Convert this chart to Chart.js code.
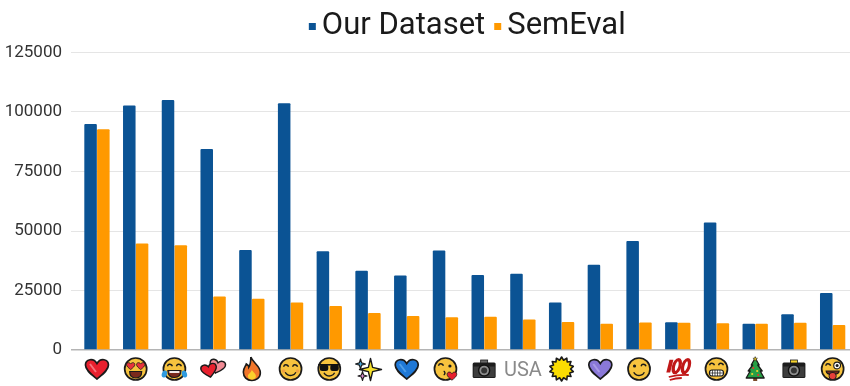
<!DOCTYPE html>
<html>
<head>
<meta charset="utf-8">
<style>
html, body { margin: 0; padding: 0; background: #fff; overflow: hidden; width: 850px; height: 386px; }
canvas { display: block; }
</style>
<script src="https://cdn.jsdelivr.net/npm/chart.js@4/dist/chart.umd.min.js"></script>
</head>
<body>
<canvas id="c" width="852" height="386"></canvas>
<script>
const categories = ['❤️', '😍', '😂', '💕', '🔥', '😊', '😎', '✨', '💙', '😘', '📷', 'USA', '🌞', '💜', '😉', '💯', '😁', '🎄', '📸', '😜'];
const ourDataset = [95000, 102700, 105000, 84500, 42000, 103700, 41500, 33300, 31300, 41800, 31500, 32000, 20000, 35800, 45800, 11700, 53600, 11000, 15000, 24000];
const semEval = [92700, 44800, 44000, 22500, 21500, 20000, 18500, 15500, 14300, 13800, 14000, 12800, 11800, 11000, 11600, 11500, 11200, 11000, 11400, 10500];
const yTicks = [0, 25000, 50000, 75000, 100000, 125000];
const seriesColors = ['#0b5394', '#ff9900'];

const INK = '#1a1a1a';

// small vector emoji, since no emoji font is installed
function heartPath(c, s) {
    c.beginPath();
    c.moveTo(0, 10 * s);
    c.bezierCurveTo(-6 * s, 5 * s, -11.5 * s, 1 * s, -11.5 * s, -4 * s);
    c.bezierCurveTo(-11.5 * s, -10 * s, -3.5 * s, -11.5 * s, 0, -5.5 * s);
    c.bezierCurveTo(3.5 * s, -11.5 * s, 11.5 * s, -10 * s, 11.5 * s, -4 * s);
    c.bezierCurveTo(11.5 * s, 1 * s, 6 * s, 5 * s, 0, 10 * s);
    c.closePath();
}
function heart(c, fill, shine) {
    heartPath(c, 1);
    c.fillStyle = fill; c.fill();
    c.strokeStyle = INK; c.lineWidth = 1.7; c.stroke();
    if (shine) {
        c.beginPath(); c.moveTo(-7, -5); c.lineTo(-1, 3);
        c.strokeStyle = shine; c.lineWidth = 2; c.stroke();
    }
}
function face(c) {
    c.beginPath(); c.arc(0, 0, 11, 0, Math.PI * 2);
    c.fillStyle = '#f7c33e'; c.fill();
    c.strokeStyle = INK; c.lineWidth = 1.7; c.stroke();
}
function arcLine(c, x, y, r, a, b, lw) {
    c.beginPath(); c.arc(x, y, r, a, b);
    c.strokeStyle = INK; c.lineWidth = lw || 1.4; c.stroke();
}
function happyEye(c, x, y) { arcLine(c, x, y + 1, 2.6, Math.PI * 1.1, Math.PI * 1.9); }
function smile(c, y, r) { arcLine(c, 0, y, r, Math.PI * 0.15, Math.PI * 0.85); }
function openMouth(c, y, w, h, fill) {
    c.beginPath(); c.moveTo(-w, y); c.lineTo(w, y);
    c.quadraticCurveTo(w, y + h, 0, y + h);
    c.quadraticCurveTo(-w, y + h, -w, y); c.closePath();
    c.fillStyle = fill; c.fill();
    c.strokeStyle = INK; c.lineWidth = 1.2; c.stroke();
}
function miniHeart(c, x, y, s, fill) {
    c.save(); c.translate(x, y); heartPath(c, s);
    c.fillStyle = fill; c.fill();
    c.strokeStyle = INK; c.lineWidth = 0.8; c.stroke(); c.restore();
}
function star(c, x, y, R, r, n, fill, lw) {
    c.beginPath();
    for (let i = 0; i < n * 2; i++) {
        const a = -Math.PI / 2 + i * Math.PI / n, q = i % 2 ? r : R;
        c.lineTo(x + Math.cos(a) * q, y + Math.sin(a) * q);
    }
    c.closePath();
    c.fillStyle = fill; c.fill();
    c.strokeStyle = INK; c.lineWidth = lw; c.lineJoin = 'round'; c.stroke();
}
function camera(c, flash) {
    c.fillStyle = '#1d1d1d';
    c.beginPath(); c.roundRect(-11.5, -6.5, 23, 15.5, 1.5); c.fill();
    c.fillStyle = '#3d3d3d'; c.fillRect(-10.5, -2.5, 21, 10.5);
    c.fillStyle = flash ? '#f6d32d' : '#6a6a6a';
    c.fillRect(-3.5, -9, 7, 3);
    c.strokeStyle = INK; c.lineWidth = 0.8; c.strokeRect(-3.5, -9, 7, 3);
    c.beginPath(); c.arc(0, 1.5, 5.5, 0, Math.PI * 2);
    c.fillStyle = '#8d8d8d'; c.fill();
    c.strokeStyle = '#111'; c.lineWidth = 1.4; c.stroke();
    c.beginPath(); c.arc(0, 1.5, 3, 0, Math.PI * 2); c.fillStyle = '#333'; c.fill();
}

const ICONS = [
    (c) => heart(c, '#e8202e', '#f4737c'),
    (c) => {
        face(c);
        miniHeart(c, -5, -3, 0.36, '#e8333b'); miniHeart(c, 5, -3, 0.36, '#e8333b');
        openMouth(c, 2.5, 6, 6.5, '#7a2a1c');
    },
    (c) => {
        face(c);
        happyEye(c, -4.5, -3); happyEye(c, 4.5, -3);
        openMouth(c, 1.5, 6.5, 7, '#7a2a1c');
        c.fillStyle = '#fff'; c.fillRect(-5, 2.1, 10, 1.8);
        c.fillStyle = '#2f9be0';
        c.beginPath(); c.ellipse(-10, 5, 2.6, 3.6, 0.3, 0, Math.PI * 2); c.fill();
        c.beginPath(); c.ellipse(10, 5, 2.6, 3.6, -0.3, 0, Math.PI * 2); c.fill();
    },
    (c) => {
        c.save(); c.translate(4, -2.5); c.rotate(0.25); heartPath(c, 0.68);
        c.fillStyle = '#f08a94'; c.fill(); c.strokeStyle = INK; c.lineWidth = 1.4; c.stroke(); c.restore();
        c.save(); c.translate(-4, 1.5); c.rotate(-0.2); heartPath(c, 0.68);
        c.fillStyle = '#e8202e'; c.fill(); c.strokeStyle = INK; c.lineWidth = 1.4; c.stroke(); c.restore();
    },
    (c) => {
        c.beginPath(); c.moveTo(-1, -12);
        c.bezierCurveTo(1, -6, 9, -3, 8.5, 4);
        c.bezierCurveTo(8.5, 9, 4, 11.5, 0, 11.5);
        c.bezierCurveTo(-5, 11.5, -8.5, 8, -8.5, 3);
        c.bezierCurveTo(-8.5, -1, -6, -3, -5.5, -5);
        c.bezierCurveTo(-4, -4, -3, -3, -3, -2);
        c.bezierCurveTo(-1, -5, -1, -9, -1, -12);
        c.fillStyle = '#f1762a'; c.fill();
        c.strokeStyle = INK; c.lineWidth = 1.6; c.stroke();
        c.beginPath(); c.moveTo(0, 1);
        c.bezierCurveTo(2, 4, 4.5, 5, 4, 8);
        c.bezierCurveTo(3.5, 10, 1, 10.5, 0, 10.5);
        c.bezierCurveTo(-2, 10.5, -4, 9.5, -4, 7);
        c.bezierCurveTo(-4, 5, -1, 4, 0, 1);
        c.fillStyle = '#fbd02c'; c.fill();
    },
    (c) => {
        face(c);
        happyEye(c, -4.5, -2.5); happyEye(c, 4.5, -2.5);
        smile(c, 0.5, 6);
        c.fillStyle = 'rgba(236,120,70,.45)';
        c.beginPath(); c.arc(-7, 2, 1.8, 0, Math.PI * 2); c.arc(7, 2, 1.8, 0, Math.PI * 2); c.fill();
    },
    (c) => {
        face(c);
        c.fillStyle = '#111';
        c.fillRect(-11, -5, 22, 1.6);
        c.beginPath(); c.roundRect(-9.5, -4.5, 8.5, 6.5, 2.5); c.fill();
        c.beginPath(); c.roundRect(1, -4.5, 8.5, 6.5, 2.5); c.fill();
        smile(c, 1, 6);
    },
    (c) => {
        star(c, 2.5, 0.5, 11, 3, 4, '#f6e02a', 1.4);
        star(c, -7.5, -5, 5, 1.6, 4, '#47a6dc', 1.1);
        star(c, -5.5, 7, 4.5, 1.5, 4, '#d98ad0', 1.1);
    },
    (c) => heart(c, '#1f78d6', '#4f9ee8'),
    (c) => {
        face(c);
        arcLine(c, -4.5, -2.5, 2.6, Math.PI * 1.1, Math.PI * 1.9);
        c.beginPath(); c.arc(4.5, -3, 1.6, 0, Math.PI * 2); c.fillStyle = INK; c.fill();
        arcLine(c, -2.5, 4, 2, -1.2, 1.2);
        miniHeart(c, 6.5, 7, 0.42, '#e8202e');
    },
    (c) => camera(c, false),
    null,
    (c) => star(c, 0, 0, 12, 9, 14, '#fadc02', 1.6),
    (c) => heart(c, '#8a78d8', '#a99ae6'),
    (c) => {
        face(c);
        c.beginPath(); c.arc(-4.5, -3, 1.6, 0, Math.PI * 2); c.fillStyle = INK; c.fill();
        arcLine(c, 4.5, -2, 2.6, Math.PI * 1.1, Math.PI * 1.9);
        smile(c, 0.5, 6);
    },
    (c) => {
        c.save(); c.scale(1.15, 1.15); c.transform(1, 0, -0.25, 1, 0, 0);
        c.strokeStyle = '#c01818'; c.lineWidth = 3.4;
        c.beginPath(); c.moveTo(-7.5, -8); c.lineTo(-7.5, 3); c.stroke();
        c.lineWidth = 2.8;
        c.beginPath(); c.ellipse(-1.5, -2.5, 2.8, 5.6, 0, 0, Math.PI * 2); c.stroke();
        c.beginPath(); c.ellipse(6.5, -2.5, 2.8, 5.6, 0, 0, Math.PI * 2); c.stroke();
        c.restore();
        c.strokeStyle = '#c01818'; c.lineWidth = 1.8;
        c.beginPath(); c.moveTo(-9, 8); c.quadraticCurveTo(0, 5.5, 11, 6); c.stroke();
        c.beginPath(); c.moveTo(-8, 11); c.quadraticCurveTo(-2, 9, 4, 9); c.stroke();
    },
    (c) => {
        face(c);
        happyEye(c, -4.5, -4); happyEye(c, 4.5, -4);
        c.beginPath(); c.roundRect(-7, 1, 14, 6, 2.5);
        c.fillStyle = '#fff'; c.fill();
        c.strokeStyle = INK; c.lineWidth = 1.2; c.stroke();
        c.lineWidth = 0.7; c.beginPath();
        for (const x of [-4, -1.5, 1, 3.5]) { c.moveTo(x, 1); c.lineTo(x, 7); }
        c.moveTo(-7, 4); c.lineTo(7, 4); c.stroke();
    },
    (c) => {
        c.fillStyle = '#7a4a2a'; c.fillRect(-2, 8.5, 4, 3.5);
        c.beginPath();
        c.moveTo(0, -11); c.lineTo(4, -4); c.lineTo(2.5, -4); c.lineTo(7, 2); c.lineTo(5, 2); c.lineTo(9, 9);
        c.lineTo(-9, 9); c.lineTo(-5, 2); c.lineTo(-7, 2); c.lineTo(-2.5, -4); c.lineTo(-4, -4); c.closePath();
        c.fillStyle = '#27a045'; c.fill();
        c.strokeStyle = INK; c.lineWidth = 1.3; c.lineJoin = 'round'; c.stroke();
        star(c, 0, -10, 2.4, 1, 5, '#f6d32d', 0.5);
        for (const [x, y, f] of [[-2, -1, '#e8332e'], [2, 2, '#f6d32d'], [-3, 5, '#f6d32d'], [3, 6, '#e8332e']]) {
            c.beginPath(); c.arc(x, y, 1.1, 0, Math.PI * 2); c.fillStyle = f; c.fill();
        }
    },
    (c) => camera(c, true),
    (c) => {
        face(c);
        arcLine(c, -4.5, -2.5, 2.6, Math.PI * 1.1, Math.PI * 1.9);
        c.beginPath(); c.arc(4.5, -3.5, 3.4, 0, Math.PI * 2);
        c.fillStyle = '#fff'; c.fill(); c.strokeStyle = INK; c.lineWidth = 1.1; c.stroke();
        c.beginPath(); c.arc(4.5, -3.5, 1.5, 0, Math.PI * 2); c.fillStyle = INK; c.fill();
        openMouth(c, 2, 6.5, 3.5, '#7a2a1c');
        c.beginPath(); c.roundRect(-3.5, 3.5, 7, 7, 3);
        c.fillStyle = '#e8403a'; c.fill(); c.strokeStyle = INK; c.lineWidth = 1; c.stroke();
    },
];

const emojiTicks = {
    id: 'emojiTicks',
    afterDraw(chart) {
        const x = chart.scales.x, c = chart.ctx;
        categories.forEach((label, i) => {
            if (!ICONS[i]) return;
            c.save();
            c.translate(x.getPixelForTick(i), 369);
            ICONS[i](c);
            c.restore();
        });
    },
};

// the reference legend sits right of centre, with tiny markers close to the text
const LEGEND_SHIFT_X = 40;
const LEGEND_SHIFT_Y = -1;
const legendTweak = {
    id: 'legendTweak',
    afterLayout(chart) {
        const l = chart.legend;
        l.left += LEGEND_SHIFT_X; l.right += LEGEND_SHIFT_X;
        l.top += LEGEND_SHIFT_Y; l.bottom += LEGEND_SHIFT_Y;
        l.legendHitBoxes.forEach((h) => { h.left += LEGEND_SHIFT_X; h.top += LEGEND_SHIFT_Y; });
    },
    afterDraw(chart) {
        const c = chart.ctx;
        chart.legend.legendHitBoxes.forEach((h, i) => {
            c.fillStyle = seriesColors[i];
            c.fillRect(h.left + 2.5, h.top + h.height / 2 - 2, 7, 7);
        });
    },
};

new Chart(document.getElementById('c'), {
    type: 'bar',
    plugins: [emojiTicks, legendTweak],
    data: {
        labels: categories,
        datasets: [
            { label: 'Our Dataset', data: ourDataset, backgroundColor: seriesColors[0], borderRadius: 1 },
            { label: 'SemEval', data: semEval, backgroundColor: seriesColors[1], borderRadius: 1 },
        ],
    },
    options: {
        responsive: false,
        animation: false,
        layout: { padding: { top: 5, right: 0, bottom: 0, left: 0 } },
        datasets: { bar: { categoryPercentage: 0.66, barPercentage: 0.98 } },
        plugins: {
            tooltip: { enabled: false },
            legend: {
                position: 'top',
                labels: { boxWidth: 0, boxHeight: 7, padding: 6.5, color: '#1a1a1a', font: { family: 'Roboto', size: 31 } },
            },
        },
        scales: {
            x: {
                afterFit: (s) => { s.height = 36; },
                grid: { display: false },
                border: { display: false },
                ticks: {
                    autoSkip: false, maxRotation: 0, padding: 1, color: '#8a8a8a',
                    font: { family: 'Roboto', size: 20 },
                    callback: (v, i) => (categories[i] === 'USA' ? 'USA' : ''),
                },
            },
            y: {
                min: 0, max: 125000,
                afterFit: (s) => { s.width = 77.6; },
                afterBuildTicks: (s) => { s.ticks = yTicks.map((value) => ({ value })); },
                border: { display: false },
                grid: {
                    tickLength: 6.6,
                    color: (ctx) => (ctx.tick.value === 0 ? '#b4b4b4' : '#e5e5e5'),
                    tickColor: (ctx) => (ctx.tick.value === 0 ? '#b4b4b4' : '#e5e5e5'),
                    lineWidth: (ctx) => (ctx.tick.value === 0 ? 1.5 : 1),
                },
                ticks: {
                    padding: 9, color: '#333', font: { family: 'Roboto', size: 17 },
                    callback: (v) => String(v),
                },
            },
        },
    },
});
</script>
</body>
</html>
